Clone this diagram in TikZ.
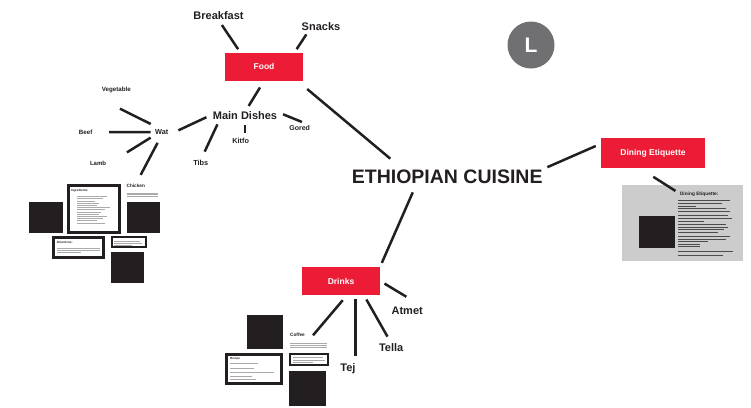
\documentclass[tikz,border=0pt]{standalone}
\usepackage{fontspec}
\setmainfont{Liberation Sans}
\definecolor{cuisinered}{RGB}{237,28,54}
\definecolor{ink}{RGB}{35,31,32}
\definecolor{logogray}{RGB}{112,112,114}
\definecolor{panelgray}{RGB}{204,204,204}
\definecolor{textgray}{RGB}{170,170,170}
\begin{document}
\begin{tikzpicture}[x=1pt,y=-1pt,
  link/.style={draw=ink,line width=2.5pt},
  topic/.style={fill=cuisinered,text=white,inner sep=0pt,minimum width=78pt,minimum height=28pt,font=\bfseries\fontsize{8.5}{9}\selectfont},
  lbl/.style={text=ink,inner sep=0pt,text height={0.7*#1pt},text depth=0pt,font=\bfseries\fontsize{#1}{#1}\selectfont},
  lbl/.default=7,
  heading/.style={anchor=west,text=ink,inner sep=0pt,font=\bfseries\fontsize{3}{3}\selectfont},
  frame/.style={draw=ink,line width=3pt,fill=white},
  thinframe/.style={draw=ink,line width=2pt,fill=white},
  block/.style={fill=ink},
  body/.style={draw=textgray,line width=0.4pt}]
\useasboundingbox (0,0) rectangle (751,407);
% Centre and topics
\node[lbl=19.5] (hub) at (447.2,176.2) {ETHIOPIAN CUISINE};
\node[topic] (food) at (264,66.7) {Food};
\node[topic,minimum height=28.4pt] (drinks) at (341,281) {Drinks};
\node[topic,minimum width=104pt,minimum height=30pt] (etiquette) at (653,153) {Dining Etiquette};
% Logo
\node[circle,fill=logogray,minimum size=47pt,inner sep=0pt,text=white,font=\bfseries\fontsize{21}{21}\selectfont] (logo) at (531,45) {L};
% Food labels
\node[lbl=11] (breakfast) at (218.5,16) {Breakfast};
\node[lbl=11] (snacks) at (321,27) {Snacks};
\node[lbl=11] (main) at (245,116) {Main Dishes};
\node[lbl=7] (gored) at (299.7,128) {Gored};
\node[lbl=7.3] (kitfo) at (240.7,140.5) {Kitfo};
\node[lbl=7.3] (tibs) at (200.8,162.7) {Tibs};
\node[lbl=7.3] (wat) at (161.7,132.2) {Wat};
\node[lbl=6.2] (vegetable) at (116.3,89.5) {Vegetable};
\node[lbl=6.2] (beef) at (85.7,132) {Beef};
\node[lbl=6] (lamb) at (98,163) {Lamb};
\node[lbl=4.7] (chicken) at (135.8,186) {Chicken};
% Drinks labels
\node[lbl=11] (atmet) at (407.2,310.8) {Atmet};
\node[lbl=11] (tella) at (391.2,347.2) {Tella};
\node[lbl=11] (tej) at (348,367.2) {Tej};
\node[lbl=4.7] (coffee) at (297.5,335.3) {Coffee};
% Links
\draw[link,shorten <=6pt,shorten >=4pt] (breakfast.south) -- (food.149);
\draw[link,shorten <=4pt,shorten >=4pt] (snacks.198) -- (food.25);
\draw[link,shorten <=12.7pt,shorten >=16.4pt] (food.-23) -- (hub.171);
\draw[link,shorten <=5pt,shorten >=5.5pt] (hub.north east) -- (etiquette.170);
\draw[link,shorten <=10pt,shorten >=4pt] (hub.193) -- (drinks.north east);
\draw[link,shorten <=7.7pt,shorten >=7pt] (food.south) -- (main.north);
\draw[link,shorten <=6.2pt,shorten >=9pt] (main.north east) -- (gored.north east);
\draw[link,shorten <=5pt,shorten >=5.2pt] (main.south) -- (main.south |- kitfo.north);
\draw[link,shorten <=4.8pt,shorten >=9.2pt] (main.189) -- (tibs.north);
\draw[link,shorten <=10.9pt,shorten >=6.9pt] (wat.south east) -- (main.177);
\draw[link,shorten <=12.3pt,shorten >=4.1pt] (wat.north) -- ([yshift=-15pt]vegetable.south);
\draw[link,shorten <=4.3pt,shorten >=16.6pt] (wat.west) -- (beef.east);
\draw[link,shorten <=5.1pt,shorten >=24.4pt] (wat.south west) -- (lamb.south east);
\draw[link,shorten <=8.9pt,shorten >=10.5pt] (wat.south) -- (chicken.north);
\draw[link,shorten <=6.3pt] (drinks.-68) -- ([xshift=8pt]coffee.east);
\draw[link,shorten <=4pt,shorten >=7.5pt] (drinks.south -| tej.north east) -- (tej.north east);
\draw[link,shorten <=4.7pt,shorten >=7.5pt] (drinks.-32) -- (tella.north);
\draw[link,shorten <=5pt,shorten >=19.4pt] (drinks.east) -- (atmet.north east);
% Chicken cards
\fill[block] (29,202.3) rectangle (63.3,233.3);
\draw[frame] (68.5,185.5) rectangle (119.5,232.5);
\node[heading] (ingredients) at (71,191) {Ingredients:};
\foreach \y/\l in {196.3/30,198.5/26,200.7/18,202.9/22,205.1/20,207.3/33,209.5/28,211.7/24,213.9/22,216.1/30,218.3/26,220.5/20,222.7/28}
  \draw[body] (76.7,\y) -- ++(\l,0);
\foreach \y in {192.7,194.3,196}
  \draw[body] (126.7,\y) -- ++(31.6,0);
\fill[block] (126.7,202.3) rectangle (160,233.3);
\draw[frame] (53.2,237.5) rectangle (103.5,257.8);
\node[heading] (directions) at (56.7,242.7) {Directions:};
\foreach \y/\l in {247.7/43,250/43,252.2/24}
  \draw[body] (56.7,\y) -- ++(\l,0);
\draw[thinframe] (111.7,237) rectangle (145.7,247.3);
\foreach \y/\l in {240.7/26,242.7/28,244.7/18}
  \draw[body] (114,\y) -- ++(\l,0);
\fill[block] (110.7,251.7) rectangle (144,282.7);
% Coffee cards
\fill[block] (246.7,315) rectangle (283.3,349);
\foreach \y in {342.7,344.7,346.7}
  \draw[body] (290,\y) -- ++(36.7,0);
\draw[frame] (226.5,354.8) rectangle (281.8,383.5);
\node[heading] (recipe) at (230,359) {Recipe};
\foreach \y/\l in {363.3/28,367.7/24,372/44,376/22,379.3/26}
  \draw[body] (230,\y) -- ++(\l,0);
\draw[thinframe] (290.3,354.3) rectangle (328.3,364.7);
\foreach \y/\l in {357.3/30,360/32,362.3/20}
  \draw[body] (292.5,\y) -- ++(\l,0);
\fill[block] (289.3,371) rectangle (326,406);
% Etiquette panel
\fill[panelgray] (622,185) rectangle (743.3,261);
\fill[block] (639,216) rectangle (675,248);
\node[lbl=4.8] (etititle) at (699.2,193.7) {Dining Etiquette:};
\foreach \y/\l in {200/52,203.5/44,206/18,208.5/48,211.5/52,215/50,218.5/54,221/26,224.5/48,227/50,229.5/46,232.5/40,236/52,239.5/48,241.5/30,244/22,246/22,251/55,255/45}
  \draw[body,draw=gray!60!black,line width=0.3pt] (678.3,\y) -- ++(\l,0);
\draw[link,shorten <=16pt,shorten >=5.2pt] (etiquette.229) -- (etititle.west);
\end{tikzpicture}
\end{document}
